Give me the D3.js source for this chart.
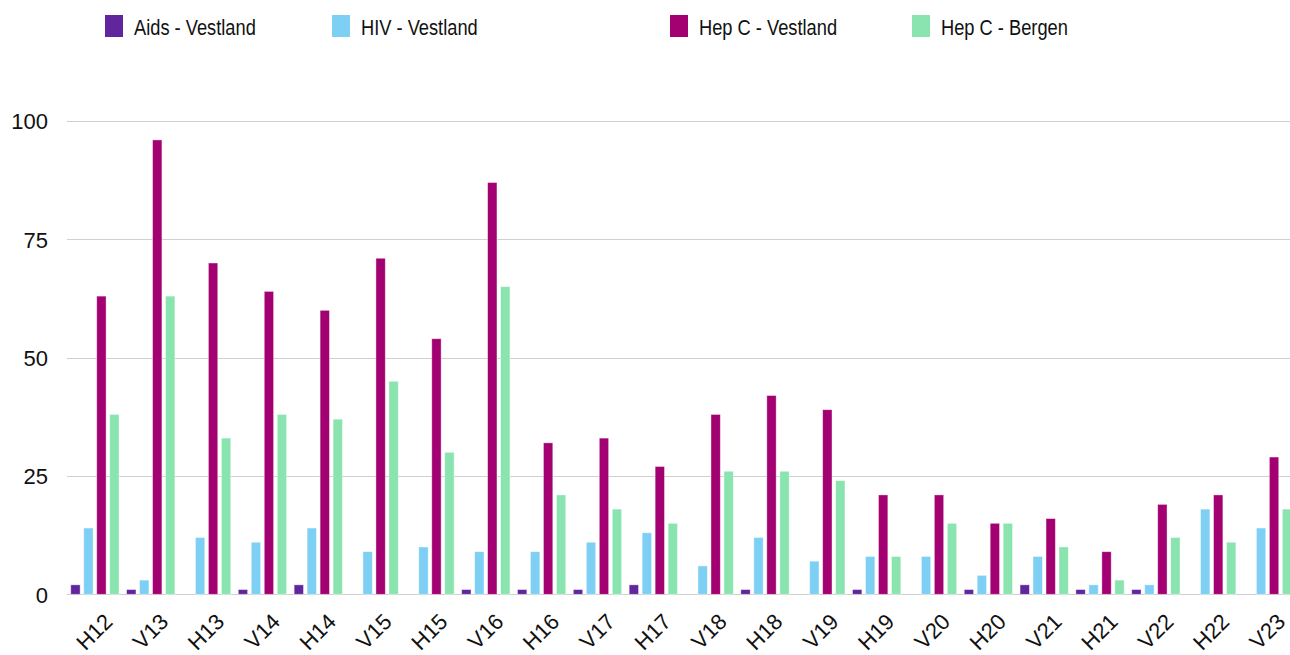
<!DOCTYPE html>
<html>
<head>
<meta charset="utf-8">
<script src="https://cdn.jsdelivr.net/npm/d3@7"></script>
<style>
  html, body { margin: 0; padding: 0; background: #fff; }
  svg { display: block; }
  text { font-family: "Liberation Sans", Arial, Helvetica, sans-serif; fill: #111; }
</style>
</head>
<body>
<svg id="chart" width="1290" height="655"></svg>
<script>
const categories = ["H12","V13","H13","V14","H14","V15","H15","V16","H16","V17","H17","V18","H18","V19","H19","V20","H20","V21","H21","V22","H22","V23"];
const seriesNames = ["Aids - Vestland","HIV - Vestland","Hep C - Vestland","Hep C - Bergen"];
const aidsVestland  = [2,1,0,1,2,0,0,1,1,1,2,0,1,0,1,0,1,2,1,1,0,0];
const hivVestland   = [14,3,12,11,14,9,10,9,9,11,13,6,12,7,8,8,4,8,2,2,18,14];
const hepCVestland  = [63,96,70,64,60,71,54,87,32,33,27,38,42,39,21,21,15,16,9,19,21,29];
const hepCBergen    = [38,63,33,38,37,45,30,65,21,18,15,26,26,24,8,15,15,10,3,12,11,18];
const yTicks = [0,25,50,75,100];
const colors = ["#61259e","#7ecff4","#a30072","#8ae4b0"];

const seriesValues = [aidsVestland, hivVestland, hepCVestland, hepCBergen];
const data = categories.map((c, i) => ({cat: c, values: seriesValues.map(s => s[i])}));

const svg = d3.select("#chart");
const left = 67, plotRight = 1290;
const groupStep = 55.84;

const x0 = d3.scaleBand().domain(categories).range([left, left + groupStep * categories.length]).padding(0);
const innerWidth = 48.3;
const x1 = d3.scaleBand().domain(d3.range(seriesNames.length)).range([0, innerWidth]).paddingInner(0.28).paddingOuter(0);
const y = d3.scaleLinear().domain([0, 100]).range([594.3, 121]);

// gridlines
svg.append("g").selectAll("line").data(yTicks).join("line")
  .attr("x1", left).attr("x2", plotRight)
  .attr("y1", d => Math.round(y(d)) + 0.5).attr("y2", d => Math.round(y(d)) + 0.5)
  .attr("stroke", "#d0d0d0").attr("stroke-width", 1);

// y axis labels
const yAxis = d3.axisLeft(y).tickValues(yTicks).tickSize(0).tickPadding(0);
const yg = svg.append("g").attr("transform", "translate(48,0)").call(yAxis);
yg.select(".domain").remove();
yg.selectAll("text").attr("font-size", 22).attr("font-family", "Liberation Sans, Arial, sans-serif").attr("fill", "#111").attr("dy", "0.36em");

// bars
const groups = svg.append("g").selectAll("g").data(data).join("g")
  .attr("transform", d => `translate(${x0(d.cat) + (x0.bandwidth() - innerWidth) / 2},0)`);
groups.selectAll("rect").data(d => d.values.map((v, k) => ({v, k}))).join("rect")
  .attr("x", d => x1(d.k))
  .attr("width", x1.bandwidth())
  .attr("y", d => y(d.v))
  .attr("height", d => y(0) - y(d.v))
  .attr("fill", d => colors[d.k])
  .attr("stroke", "rgba(255,255,255,0.5)")
  .attr("stroke-width", 0.8);

// x axis labels
const xAxis = d3.axisBottom(x0).tickSize(0).tickPadding(0);
const xg = svg.append("g").attr("transform", "translate(0,0)").call(xAxis);
xg.select(".domain").remove();
xg.selectAll(".tick").attr("transform", d => `translate(${x0(d) + x0.bandwidth() / 2 + 19},623)`);
xg.selectAll("text")
  .attr("font-size", 22).attr("font-family", "Liberation Sans, Arial, sans-serif").attr("fill", "#111")
  .attr("text-anchor", "end").attr("x", 0).attr("y", 0).attr("dy", 0)
  .attr("transform", "rotate(-45)");

// legend
const legendX = [105, 332, 670, 912];
const legend = svg.append("g").selectAll("g").data(seriesNames).join("g")
  .attr("transform", (d, i) => `translate(${legendX[i]},15)`);
legend.append("rect").attr("width", 18).attr("height", 22).attr("fill", (d, i) => colors[i]);
legend.append("text")
  .attr("x", 29).attr("y", 20)
  .attr("font-size", 22)
  .text(d => d)
  .each(function() {
    const w = this.getComputedTextLength();
    d3.select(this).attr("textLength", w * 0.83).attr("lengthAdjust", "spacingAndGlyphs");
  });
</script>
</body>
</html>
